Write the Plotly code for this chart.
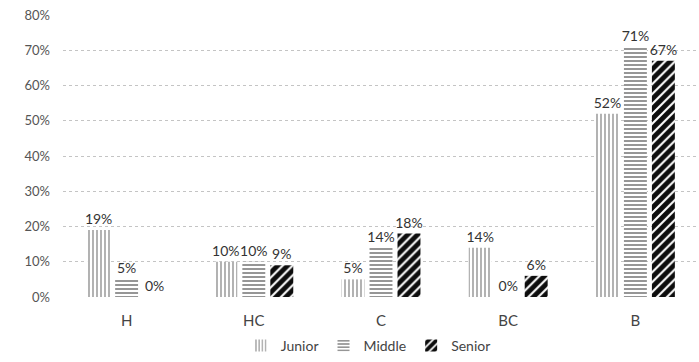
import plotly.graph_objects as go

categories = ["H", "HC", "C", "BC", "B"]
junior = [19, 10, 5, 14, 52]
middle = [5, 10, 14, 0, 71]
senior = [0, 9, 18, 6, 67]
y_ticks = [0, 10, 20, 30, 40, 50, 60, 70, 80]
y_tick_labels = [f"{v}%" for v in y_ticks]

series = [
    ("Junior", junior, "|", "#707070", 0.45, 4, 0.6),
    ("Middle", middle, "-", "#505050", 0.5, 4, 0.6),
    ("Senior", senior, "/", "#000000", 0.7, 7, 0.95),
]

fig = go.Figure()
for name, vals, shape, col, sol, sz, op in series:
    fig.add_trace(go.Bar(
        name=name, x=categories, y=vals,
        text=[f"{v}%" for v in vals], textposition="outside", textangle=0,
        textfont=dict(size=14, color="#333333"),
        cliponaxis=False,
        marker=dict(color="white", line=dict(width=0),
                    pattern=dict(shape=shape, fgcolor=col, bgcolor="white",
                                 size=sz, solidity=sol, fgopacity=op)),
    ))

fig.update_layout(
    width=699, height=362,
    margin=dict(l=63, r=0, t=15, b=65),
    paper_bgcolor="white", plot_bgcolor="white",
    font=dict(family="Lato, Open Sans, sans-serif", color="#444444", size=12),
    barmode="group", bargap=0.34, bargroupgap=0.18,
    uniformtext=dict(minsize=14, mode="show"),
    showlegend=True,
    legend=dict(orientation="h", x=0.48, xanchor="center",
                yref="container", y=0, yanchor="bottom",
                font=dict(size=14, color="#444444"), itemwidth=30,
                tracegroupgap=0),
    xaxis=dict(showline=False, ticks="", ticklabelstandoff=13,
               tickfont=dict(size=15, color="#444444")),
    yaxis=dict(range=[0, 80], tickvals=y_ticks, ticktext=y_tick_labels,
               showgrid=True, gridcolor="#c4c4c4", griddash="dot", gridwidth=1,
               zeroline=False, showline=False, ticks="", ticklabelstandoff=12,
               tickfont=dict(size=13, color="#555555")),
)

fig.write_html("out.html")
